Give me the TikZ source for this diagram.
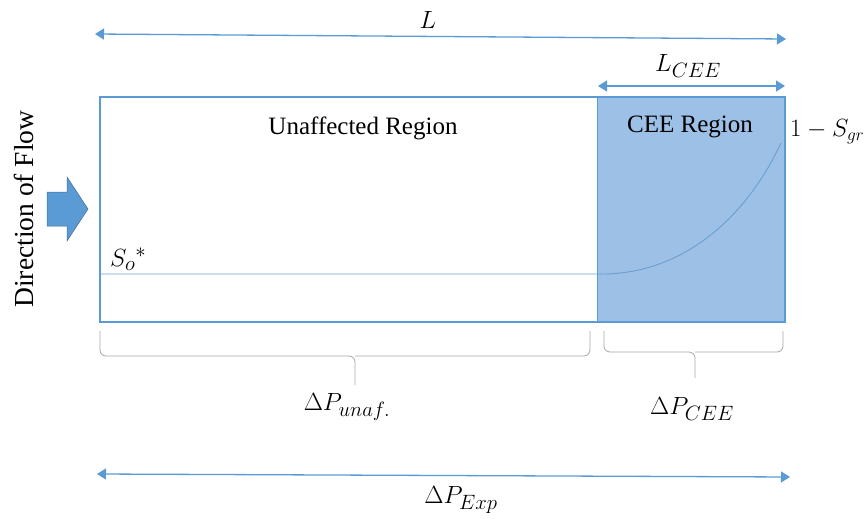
\documentclass[tikz,border=0pt]{standalone}
\usepackage{fontspec}
\setmainfont{Liberation Serif}
\usetikzlibrary{arrows.meta}
\DeclareMathSizes{26}{26}{21}{16}
\DeclareMathSizes{23}{23}{18}{14}
\definecolor{edge}{HTML}{5B9BD5}
\definecolor{cee}{HTML}{9DC0E6}
\definecolor{brc}{HTML}{A6A6A6}
\definecolor{curve}{HTML}{6A9FD0}
\tikzset{
  dim/.style={draw=edge, line width=1.3pt, {Triangle[width=11pt,length=9pt]}-{Triangle[width=11pt,length=9pt]}},
  lbl/.style={font=\fontsize{26}{30}\selectfont, inner sep=0pt},
  txt/.style={font=\fontsize{25}{30}\selectfont, inner sep=0pt},
  brace/.style={draw=brc, line width=0.8pt, rounded corners=6pt},
}
\begin{document}
\begin{tikzpicture}[x=1pt,y=-1pt]
\useasboundingbox (0,0) rectangle (868,519);
% coordinates
\coordinate (TL) at (100,97);
\coordinate (BR) at (785,322);
\coordinate (CT) at (597,97);
\coordinate (CB) at (597,322);
% CEE region
\fill[cee] (CT) rectangle (BR);
\draw[edge, line width=1.8pt] (TL) rectangle (BR);
\draw[edge, line width=1pt] (CT) -- (CB);
% saturation line
\coordinate (s0) at (100,274);
\coordinate (s1) at (597,274);
\coordinate (s2) at (781,143);
\draw[curve, line width=0.9pt] (s0) -- (s1) .. controls (680,276) and (745,220) .. (s2);
% texts
\node[txt] (unaf) at (363,128) {Unaffected Region};
\node[txt] (ceer) at (690,127) {CEE Region};
\node[lbl, anchor=west] (so) at (110,259) {$S_o{}^{*}$};
\node[lbl, anchor=west, font=\fontsize{23}{27}\selectfont] (sgr) at (790,132) {$1-S_{gr}$};
% top dimension arrows
\coordinate (La) at (95,34);
\coordinate (Lb) at (786,39);
\draw[dim] (La) -- (Lb);
\node[lbl] (L) at (428,20) {$L$};
\coordinate (LCa) at (598,86);
\coordinate (LCb) at (785,86);
\draw[dim] (LCa) -- (LCb);
\node[lbl] (LC) at (688,66) {$L_{CEE}$};
% direction of flow
\node[txt, rotate=90, font=\fontsize{27.5}{30}\selectfont] (dir) at (24,209) {Direction of Flow};
\fill[edge] (47,192) -- (67,192) -- (67,177) -- (88,209) -- (67,241) -- (67,226) -- (47,226) -- cycle;
\draw[edge!70!black, line width=0.5pt] (47,192) -- (67,192) -- (67,177) -- (88,209) -- (67,241) -- (67,226) -- (47,226) -- cycle;
% braces
\draw[brace] (100,331) -- (100,356) -- (355,356) -- (355,385);
\draw[brace] (590,331) -- (590,356) -- (355,356);
\draw[brace] (604,331) -- (604,352) -- (695,352) -- (695,378);
\draw[brace] (783,331) -- (783,352) -- (695,352);
\node[lbl] (dpu) at (347,407) {$\Delta P_{unaf.}$};
\node[lbl] (dpc) at (692,409) {$\Delta P_{CEE}$};
% bottom arrow
\coordinate (Ea) at (97,474);
\coordinate (Eb) at (790,477);
\draw[dim] (Ea) -- (Eb);
\node[lbl] (dpe) at (461,500) {$\Delta P_{Exp}$};
\end{tikzpicture}
\end{document}
